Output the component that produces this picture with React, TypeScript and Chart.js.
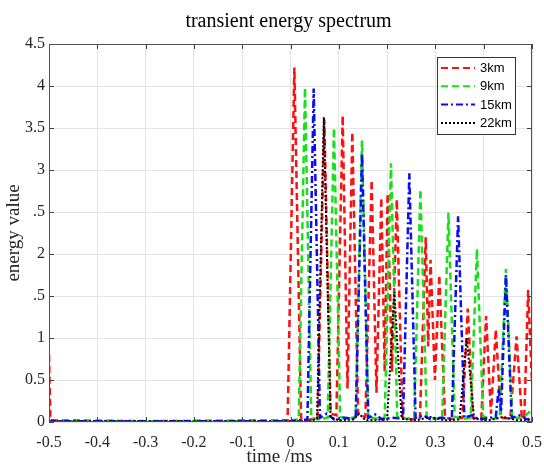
import React, { useEffect, useRef } from "react";
import { Chart, registerables } from "chart.js";

Chart.register(...registerables);

// ---- tick values / labels ----
const xTicks = [-0.5, -0.4, -0.3, -0.2, -0.1, 0, 0.1, 0.2, 0.3, 0.4, 0.5];
const xTickLabels = ["-0.5", "-0.4", "-0.3", "-0.2", "-0.1", "0", "0.1", "0.2", "0.3", "0.4", "0.5"];
const yTicks = [0, 0.5, 1, 1.5, 2, 2.5, 3, 3.5, 4, 4.5];
const yTickLabels = ["0", "0.5", "1", ".5", "2", ".5", "3", "3.5", "4", "4.5"];

const seriesNames = ["3km", "9km", "15km", "22km"];
const seriesColors = ["#ff1010", "#18e018", "#0a0aff", "#000000"];
const seriesDash = [[7, 4], [7, 4], [7, 3, 2, 3], [2, 2]];
const seriesWidth = [2.5, 2.5, 2.5, 2];

// ---- 3km (red) ----
const red_t = [
  -0.5, -0.497, -0.3, -0.006, 0.008, 0.022, 0.035, 0.056, 0.07, 0.083, 0.095, 0.108, 0.118, 0.128,
  0.14, 0.155, 0.168, 0.178, 0.188, 0.195, 0.201, 0.21, 0.22, 0.232, 0.25, 0.268, 0.28, 0.285,
  0.29, 0.299, 0.308, 0.32, 0.34, 0.356, 0.367, 0.378, 0.395, 0.405, 0.415, 0.425, 0.436, 0.455,
  0.468, 0.479, 0.484, 0.492, 0.5, 0.505,
];
const red_v = [
  0.8, 0.02, 0.01, 0.02, 4.22, 0.04, 0.02, 0.05, 3.6, 0.1, 0.08, 3.65, 0.4, 3.45,
  0.08, 0.06, 2.88, 0.35, 2.67, 0.6, 2.72, 0.6, 2.65, 0.06, 0.03, 0.05, 2.2, 0.9,
  1.93, 0.5, 1.75, 0.05, 0.03, 0.05, 1.35, 0.05, 0.04, 1.26, 0.1, 1.1, 0.05, 0.04,
  1.02, 0.05, 0.05, 1.57, 0.45, 0.02,
];

// ---- 9km (green) ----
const green_t = [
  -0.5, -0.01, 0.017, 0.03, 0.043, 0.06, 0.077, 0.09, 0.103, 0.12, 0.135, 0.148, 0.161, 0.18,
  0.195, 0.208, 0.221, 0.24, 0.256, 0.269, 0.282, 0.3, 0.314, 0.327, 0.34, 0.36, 0.373, 0.386,
  0.399, 0.42, 0.433, 0.446, 0.459, 0.48, 0.5,
];
const green_v = [
  0.01, 0.01, 0.03, 3.98, 0.05, 0.03, 0.05, 3.5, 0.06, 0.04, 0.06, 3.35, 0.06, 0.04,
  0.05, 3.08, 0.06, 0.04, 0.05, 2.77, 0.06, 0.04, 0.05, 2.49, 0.06, 0.04, 0.05, 2.06,
  0.06, 0.04, 0.05, 1.82, 0.06, 0.04, 0.15,
];

// ---- 15km (blue) ----
const blue_t = [
  -0.5, 0.0, 0.035, 0.048, 0.061, 0.075, 0.09, 0.11, 0.135, 0.148, 0.161, 0.175, 0.19, 0.21,
  0.233, 0.246, 0.259, 0.275, 0.29, 0.31, 0.334, 0.347, 0.36, 0.375, 0.39, 0.41, 0.425, 0.431,
  0.436, 0.446, 0.458, 0.475, 0.49, 0.5,
];
const blue_v = [
  0.01, 0.01, 0.03, 3.97, 0.05, 0.1, 0.03, 0.05, 0.04, 3.2, 0.05, 0.09, 0.03, 0.05,
  0.04, 2.96, 0.05, 0.08, 0.03, 0.05, 0.04, 2.45, 0.05, 0.08, 0.03, 0.05, 0.06, 0.4,
  0.12, 1.75, 0.05, 0.08, 0.03, 0.05,
];

// ---- 22km (black) ----
const black_t = [
  -0.5, 0.04, 0.055, 0.069, 0.083, 0.1, 0.13, 0.142, 0.155, 0.2, 0.215, 0.23, 0.26, 0.29,
  0.32, 0.35, 0.365, 0.38, 0.41, 0.44, 0.47, 0.5,
];
const black_v = [
  0.01, 0.01, 0.04, 3.63, 0.06, 0.02, 0.03, 0.1, 0.02, 0.03, 1.55, 0.04, 0.02, 0.06,
  0.02, 0.03, 1.0, 0.04, 0.02, 0.06, 0.02, 0.03,
];

const seriesT = [red_t, green_t, blue_t, black_t];
const seriesV = [red_v, green_v, blue_v, black_v];

const titleText = "transient energy spectrum";
const xTitleText = "time /ms";
const yTitleText = "energy value";

const SERIF = "'Liberation Serif', 'Times New Roman', serif";
const SANS = "'Liberation Sans', Arial, sans-serif";

const decorPlugin = {
  id: "decor",
  afterDraw(chart: any) {
    const { ctx, chartArea } = chart;
    const { left, right, top, bottom } = chartArea;
    const xs = chart.scales.x;
    const ys = chart.scales.y;
    ctx.save();

    // inner ticks
    ctx.strokeStyle = "#404040";
    ctx.lineWidth = 1;
    ctx.setLineDash([]);
    ctx.beginPath();
    xTicks.forEach((v) => {
      const px = Math.round(xs.getPixelForValue(v)) + 0.5;
      ctx.moveTo(px, bottom);
      ctx.lineTo(px, bottom - 5);
      ctx.moveTo(px, top);
      ctx.lineTo(px, top + 5);
    });
    yTicks.forEach((v) => {
      const py = Math.round(ys.getPixelForValue(v)) + 0.5;
      ctx.moveTo(left, py);
      ctx.lineTo(left + 5, py);
      ctx.moveTo(right, py);
      ctx.lineTo(right - 5, py);
    });
    ctx.stroke();

    // frame
    ctx.strokeStyle = "#505050";
    ctx.strokeRect(Math.round(left) + 0.5, Math.round(top) + 0.5, Math.round(right - left) - 1, Math.round(bottom - top) - 1);

    // title
    ctx.fillStyle = "#000";
    ctx.font = `20px ${SERIF}`;
    ctx.textAlign = "center";
    ctx.textBaseline = "middle";
    ctx.fillText(titleText, (left + right) / 2 - 2, 22);

    // x title
    ctx.fillStyle = "#262626";
    ctx.font = `19px ${SERIF}`;
    ctx.fillText(xTitleText, (left + right) / 2 - 11, 457);

    // legend
    const bx = right - 95;
    const by = top + 13;
    const bw = 78;
    const bh = 77;
    ctx.fillStyle = "#fff";
    ctx.fillRect(bx, by, bw, bh);
    ctx.strokeStyle = "#333";
    ctx.lineWidth = 1;
    ctx.strokeRect(bx + 0.5, by + 0.5, bw, bh);
    ctx.font = `13px ${SANS}`;
    ctx.textAlign = "left";
    ctx.textBaseline = "middle";
    seriesNames.forEach((name, i) => {
      const cy = by + 11 + i * 18.3;
      ctx.strokeStyle = seriesColors[i];
      ctx.lineWidth = 2;
      ctx.setLineDash(seriesDash[i]);
      ctx.beginPath();
      ctx.moveTo(bx + 4, cy);
      ctx.lineTo(bx + 38, cy);
      ctx.stroke();
      ctx.setLineDash([]);
      ctx.fillStyle = "#000";
      ctx.fillText(name, bx + 43, cy + 0.5);
    });
    ctx.restore();
  },
};

export default function App() {
  const ref = useRef<HTMLCanvasElement | null>(null);

  useEffect(() => {
    document.body.style.margin = "0";
    const canvas = ref.current;
    if (!canvas) return;
    const datasets = seriesNames.map((name, i) => ({
      label: name,
      data: seriesT[i].map((t, k) => ({ x: t, y: seriesV[i][k] })),
      borderColor: seriesColors[i],
      backgroundColor: seriesColors[i],
      borderWidth: seriesWidth[i],
      borderDash: seriesDash[i],
      pointRadius: 0,
      tension: 0,
      fill: false,
      order: 4 - i,
    }));

    const chart = new Chart(canvas, {
      type: "line",
      data: { datasets },
      options: {
        animation: false,
        responsive: false,
        devicePixelRatio: 1,
        layout: { padding: { left: 0, top: 44, right: 12, bottom: 0 } },
        plugins: {
          legend: { display: false },
          tooltip: { enabled: false },
          title: { display: false },
        },
        scales: {
          x: {
            type: "linear",
            min: -0.5,
            max: 0.5,
            afterBuildTicks: (scale: any) => {
              scale.ticks = xTicks.map((v) => ({ value: v }));
            },
            afterFit: (scale: any) => {
              scale.height = 43;
              scale.paddingLeft = 0;
              scale.paddingRight = 0;
            },
            ticks: {
              callback: (_v: any, i: number) => xTickLabels[i],
              font: { family: SERIF, size: 16 },
              color: "#262626",
              padding: 11,
              maxRotation: 0,
              autoSkip: false,
            },
            grid: { color: "#e4e4e4", drawTicks: false, lineWidth: 1 },
            border: { display: false },
          },
          y: {
            type: "linear",
            min: 0,
            max: 4.5,
            afterBuildTicks: (scale: any) => {
              scale.ticks = yTicks.map((v) => ({ value: v }));
            },
            afterFit: (scale: any) => {
              scale.width = 49;
              scale.paddingTop = 0;
              scale.paddingBottom = 0;
            },
            ticks: {
              callback: (_v: any, i: number) => yTickLabels[i],
              font: { family: SERIF, size: 16 },
              color: "#262626",
              padding: 4,
              autoSkip: false,
            },
            grid: { color: "#e4e4e4", drawTicks: false, lineWidth: 1 },
            border: { display: false },
            title: {
              display: true,
              text: yTitleText,
              font: { family: SERIF, size: 19 },
              color: "#262626",
              padding: { top: 3, bottom: 0 },
            },
          },
        },
      },
      plugins: [decorPlugin],
    } as any);

    return () => chart.destroy();
  }, []);

  return (
    <div style={{ width: 544, height: 465, background: "#fff" }}>
      <canvas ref={ref} width={544} height={465} style={{ display: "block" }} />
    </div>
  );
}
